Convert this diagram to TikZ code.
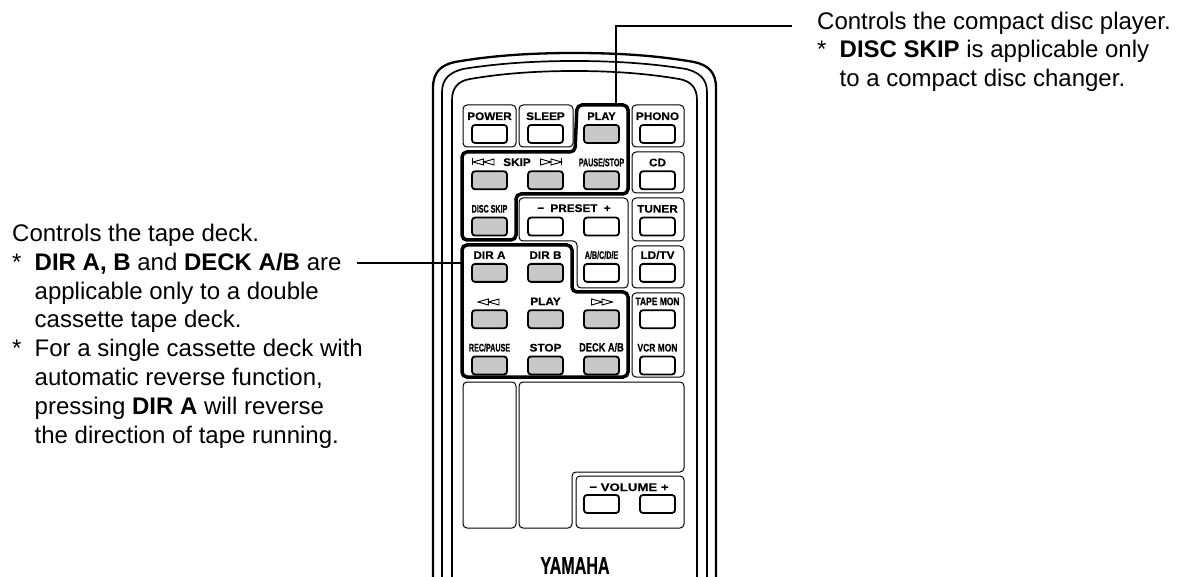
\documentclass[tikz,border=0pt]{standalone}
\usepackage{xcolor}
\usepackage{fontspec}
\usetikzlibrary{positioning}
\setmainfont{Liberation Sans}
\newfontfamily\lblplain[FakeBold=0.4]{Liberation Sans}
\newfontfamily\lblwide[FakeStretch=1.07,FakeBold=0.4]{Liberation Sans}
\newfontfamily\lblvol[FakeStretch=1.2,FakeBold=0.4]{Liberation Sans}
\newfontfamily\lblmid[FakeStretch=0.77,FakeBold=0.4]{Liberation Sans}
\newfontfamily\lblcond[FakeStretch=0.65,FakeBold=0.4]{Liberation Sans}
\newfontfamily\brandfont[FakeStretch=0.67,FakeBold=0.4]{Liberation Sans}
\definecolor{keygrey}{HTML}{C8C8C8}
\newcommand{\staritem}{\makebox[22.5pt][l]{*}}
\newcommand{\starcont}{\hspace*{22.5pt}}

\begin{document}
\begin{tikzpicture}[
    x=1pt, y=-1pt,
    key/.style={
        draw,
        line width=1.8pt,
        rounded corners=3pt,
        inner sep=0pt,
        outer sep=0pt,
        minimum width=35pt,
        minimum height=18pt
    },
    greykey/.style={key, fill=keygrey},
    lbl/.style={
        inner sep=0pt,
        outer sep=0pt,
        text height=8pt,
        text depth=0pt,
        font=\lblwide\fontsize{11}{13}\selectfont\bfseries
    },
    lblm/.style={lbl, font=\lblmid\fontsize{11}{13}\selectfont\bfseries},
    lblc/.style={lbl, font=\lblcond\fontsize{11}{13}\selectfont\bfseries},
    panel/.style={draw, line width=1pt, rounded corners=4pt},
    group/.style={draw, line width=3.5pt, rounded corners=5pt},
    shell/.style={draw, line width=1.7pt},
    leader/.style={draw, line width=2pt},
    note/.style={
        anchor=north west,
        inner sep=0pt,
        align=left,
        font=\fontsize{24}{28.8}\selectfont
    },
    rewmark/.pic={
        \draw[line width=0.9pt] (-10.5,0) -- (0,-3) -- (0,3) -- cycle;
        \draw[line width=0.9pt] (0,0) -- (10.5,-3) -- (10.5,3) -- cycle;
    },
    ffmark/.pic={
        \draw[line width=0.9pt] (-10.5,-3) -- (0,0) -- (-10.5,3) -- cycle;
        \draw[line width=0.9pt] (0,-3) -- (10.5,0) -- (0,3) -- cycle;
    }
]
\useasboundingbox (0,0) rectangle (1181,577);

% remote body
\draw[shell, line width=2.3pt] (433,577) -- (433,88) .. controls (433,72) and (441,65) .. (455,62)
    .. controls (495,55) and (535,53) .. (574.5,53) .. controls (614,53) and (654,55) .. (694,62)
    .. controls (708,65) and (716,72) .. (716,88) -- (716,577);
\draw[shell] (442,577) -- (442,92) .. controls (442,78) and (451,72) .. (463,69)
    .. controls (500,63) and (538,61) .. (574.5,61) .. controls (611,61) and (649,63) .. (686,69)
    .. controls (698,72) and (707,78) .. (707,92) -- (707,577);
\draw[shell] (452,577) -- (452,100) .. controls (452,88) and (458,81) .. (470,79)
    .. controls (505,73) and (540,71) .. (574.5,71) .. controls (609,71) and (644,73) .. (679,79)
    .. controls (691,81) and (697,88) .. (697,100) -- (697,577);

% thin panels
\draw[panel] (463,105) rectangle (516,147);
\draw[panel] (519,105) rectangle (573,147);
\draw[panel] (632,105) rectangle (684,147);
\draw[panel] (632,152) rectangle (684,193);
\draw[panel] (632,198) rectangle (684,241);
\draw[panel] (632,246) rectangle (684,288);
\draw[panel] (632,293) rectangle (684,377);
\draw[panel] (519,198) -- (628,198) -- (628,288) -- (577,288) -- (577,241) -- (519,241) -- cycle;
\draw[panel] (463,382) rectangle (516,528);
\draw[panel] (519,382) -- (684,382) -- (684,472) -- (572,472) -- (572,528) -- (519,528) -- cycle;
\draw[panel] (576,476) rectangle (684,528);

% keys, row by row
\node[key] (power) at (489.5,134) {};
\node[key, right=21pt of power] (sleep) {};
\node[greykey, right=21pt of sleep] (cdplay) {};
\node[key, right=21pt of cdplay] (phono) {};
\node[greykey, below=28.3pt of power] (skipprev) {};
\node[greykey, right=21pt of skipprev] (skipnext) {};
\node[greykey, right=21pt of skipnext] (pausestop) {};
\node[key, right=21pt of pausestop] (cd) {};
\node[greykey, below=28.3pt of skipprev] (discskip) {};
\node[key, right=21pt of discskip] (presetminus) {};
\node[key, right=21pt of presetminus] (presetplus) {};
\node[key, right=21pt of presetplus] (tuner) {};
\node[greykey, below=28.3pt of discskip] (dira) {};
\node[greykey, right=21pt of dira] (dirb) {};
\node[key, right=21pt of dirb] (abcde) {};
\node[key, right=21pt of abcde] (ldtv) {};
\node[greykey, below=28.3pt of dira] (rewind) {};
\node[greykey, right=21pt of rewind] (tapeplay) {};
\node[greykey, right=21pt of tapeplay] (forward) {};
\node[key, right=21pt of forward] (tapemon) {};
\node[greykey, below=28.3pt of rewind] (recpause) {};
\node[greykey, right=21pt of recpause] (tapestop) {};
\node[greykey, right=21pt of tapestop] (deckab) {};
\node[key, right=21pt of deckab] (vcrmon) {};
\node[key] (volminus) at (601.5,504) {};
\node[key, right=21pt of volminus] (volplus) {};

% key labels
\node[lbl, above=5pt of power] (lpower) {POWER};
\node[lbl, above=5pt of sleep] (lsleep) {SLEEP};
\node[lbl, above=5pt of cdplay, font=\lblplain\fontsize{11}{13}\selectfont\bfseries] (lcdplay) {PLAY};
\node[lbl, above=5pt of phono] (lphono) {PHONO};
\node[lbl] (lskip) at (517,162) {SKIP};
\node[lblc, above=5pt of pausestop] (lpausestop) {PAUSE/STOP};
\node[lbl, above=5pt of cd] (lcd) {CD};
\node[lblc, above=5pt of discskip] (ldiscskip) {DISC SKIP};
\node[lbl] (lpreset) at (574,208) {−\hspace{3pt} PRESET\hspace{3pt} +};
\node[lbl, above=5pt of tuner] (ltuner) {TUNER};
\node[lbl, above=5pt of dira] (ldira) {DIR A};
\node[lbl, above=5pt of dirb] (ldirb) {DIR B};
\node[lblc, above=5pt of abcde] (labcde) {A/B/C/D/E};
\node[lbl, above=5pt of ldtv] (lldtv) {LD/TV};
\node[lbl, above=5pt of tapeplay] (ltapeplay) {PLAY};
\node[lblm, above=5pt of tapemon] (ltapemon) {TAPE MON};
\node[lblc, above=5pt of recpause] (lrecpause) {REC/PAUSE};
\node[lbl, above=5pt of tapestop] (ltapestop) {STOP};
\node[lblm, above=5pt of deckab, font=\lblmid\fontsize{12}{13}\selectfont\bfseries] (ldeckab) {DECK A/B};
\node[lblm, above=5pt of vcrmon] (lvcrmon) {VCR MON};
\node[lbl, font=\lblvol\fontsize{11}{13}\selectfont\bfseries] (lvolume) at (629,487) {− VOLUME +};
\node[inner sep=0pt, font=\brandfont\fontsize{24}{26}\selectfont\bfseries] (brand) at (575,565.5) {YAMAHA};

% transport marks
\pic at (483.5,162) {rewmark};
\draw[line width=0.9pt] (472.5,158.5) -- (472.5,165.5);
\pic at (551,162) {ffmark};
\draw[line width=0.9pt] (561.5,158.5) -- (561.5,165.5);
\pic at (488.5,302) {rewmark};
\pic at (602,302) {ffmark};

% heavy groups
\draw[group] (577,105) -- (628,105) -- (628,194) -- (516,194) -- (516,240) -- (462,240) -- (462,152) -- (575,152) -- cycle;
\draw[group] (462,245) -- (572,245) -- (572,292) -- (628,292) -- (628,377) -- (462,377) -- cycle;

% notes and leaders
\node[note] (notecd) at (817,11.5) {Controls the compact disc player.\\
    \staritem\textbf{DISC SKIP} is applicable only\\
    \starcont to a compact disc changer.};
\node[note] (notetape) at (12,224) {Controls the tape deck.\\
    \staritem\textbf{DIR A, B} and \textbf{DECK A/B} are\\
    \starcont applicable only to a double\\
    \starcont cassette tape deck.\\
    \staritem For a single cassette deck with\\
    \starcont automatic reverse function,\\
    \starcont pressing \textbf{DIR A} will reverse\\
    \starcont the direction of tape running.};

\coordinate (cdgroup) at (616,105);
\coordinate (cdend) at (792,26);
\coordinate (tapegroup) at (462,263);
\coordinate (tapeend) at (357,263);
\draw[leader] (cdgroup) |- (cdend);
\draw[leader] (tapeend) -- (tapegroup);
\end{tikzpicture}
\end{document}
